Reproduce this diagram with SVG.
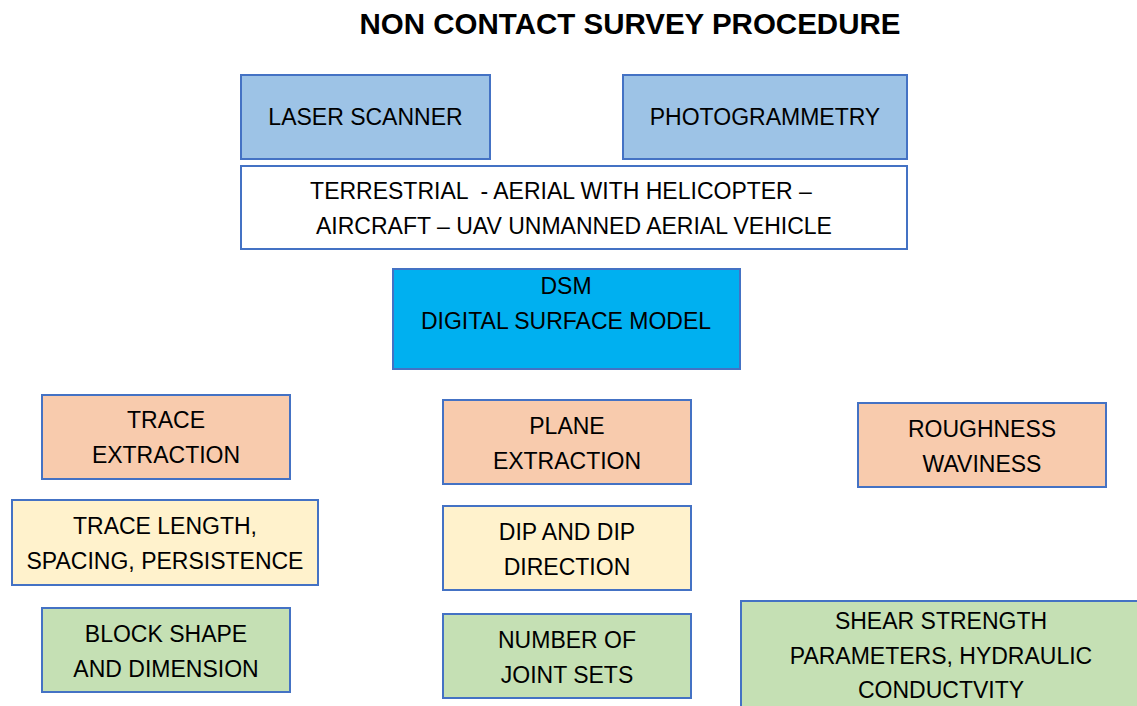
<svg xmlns="http://www.w3.org/2000/svg" width="1137" height="706" viewBox="0 0 1137 706">
<style>
.b{stroke:#4472C4;stroke-width:2}
.t{font-family:"Liberation Sans",Arial,sans-serif;font-size:23px;fill:#000;text-anchor:middle}
.title{font-family:"Liberation Sans",Arial,sans-serif;font-size:29.5px;font-weight:bold;fill:#000;text-anchor:middle}
.blue{fill:#9DC3E6}.white{fill:#FFFFFF}.cyan{fill:#00B0F0}.orange{fill:#F8CBAD}.yellow{fill:#FFF2CC}.green{fill:#C5E0B4}
</style>
<rect width="1137" height="706" fill="#FFFFFF"/>
<text class="title" x="630" y="34">NON CONTACT SURVEY PROCEDURE</text>
<g id="connectors"></g>
<g id="laser"><rect class="b blue" x="241" y="75" width="249" height="84"/><text class="t" x="365.5" y="125">LASER SCANNER</text></g>
<g id="photo"><rect class="b blue" x="623" y="75" width="284" height="84"/><text class="t" x="765" y="125">PHOTOGRAMMETRY</text></g>
<g id="platforms"><rect class="b white" x="241" y="166" width="666" height="83"/><text class="t" x="561" y="199" xml:space="preserve">TERRESTRIAL  - AERIAL WITH HELICOPTER –</text><text class="t" x="574" y="234">AIRCRAFT – UAV UNMANNED AERIAL VEHICLE</text></g>
<g id="dsm"><rect class="b cyan" x="393" y="269" width="347" height="100"/><text class="t" x="566" y="294">DSM</text><text class="t" x="566" y="329">DIGITAL SURFACE MODEL</text></g>
<g id="trace"><rect class="b orange" x="42" y="395" width="248" height="84"/><text class="t" x="166" y="428">TRACE</text><text class="t" x="166" y="463">EXTRACTION</text></g>
<g id="tracelen"><rect class="b yellow" x="12" y="500" width="306" height="85"/><text class="t" x="165" y="534">TRACE LENGTH,</text><text class="t" x="165" y="569">SPACING, PERSISTENCE</text></g>
<g id="block"><rect class="b green" x="42" y="608" width="248" height="84"/><text class="t" x="166" y="642">BLOCK SHAPE</text><text class="t" x="166" y="677">AND DIMENSION</text></g>
<g id="plane"><rect class="b orange" x="443" y="400" width="248" height="84"/><text class="t" x="567" y="434">PLANE</text><text class="t" x="567" y="469">EXTRACTION</text></g>
<g id="dip"><rect class="b yellow" x="443" y="506" width="248" height="84"/><text class="t" x="567" y="540">DIP AND DIP</text><text class="t" x="567" y="575">DIRECTION</text></g>
<g id="joints"><rect class="b green" x="443" y="614" width="248" height="84"/><text class="t" x="567" y="648">NUMBER OF</text><text class="t" x="567" y="683">JOINT SETS</text></g>
<g id="rough"><rect class="b orange" x="858" y="403" width="248" height="84"/><text class="t" x="982" y="437">ROUGHNESS</text><text class="t" x="982" y="472">WAVINESS</text></g>
<g id="shear"><rect class="b green" x="741" y="601" width="410" height="120"/><text class="t" x="941" y="629">SHEAR STRENGTH</text><text class="t" x="941" y="664">PARAMETERS, HYDRAULIC</text><text class="t" x="941" y="698">CONDUCTVITY</text></g>
</svg>
